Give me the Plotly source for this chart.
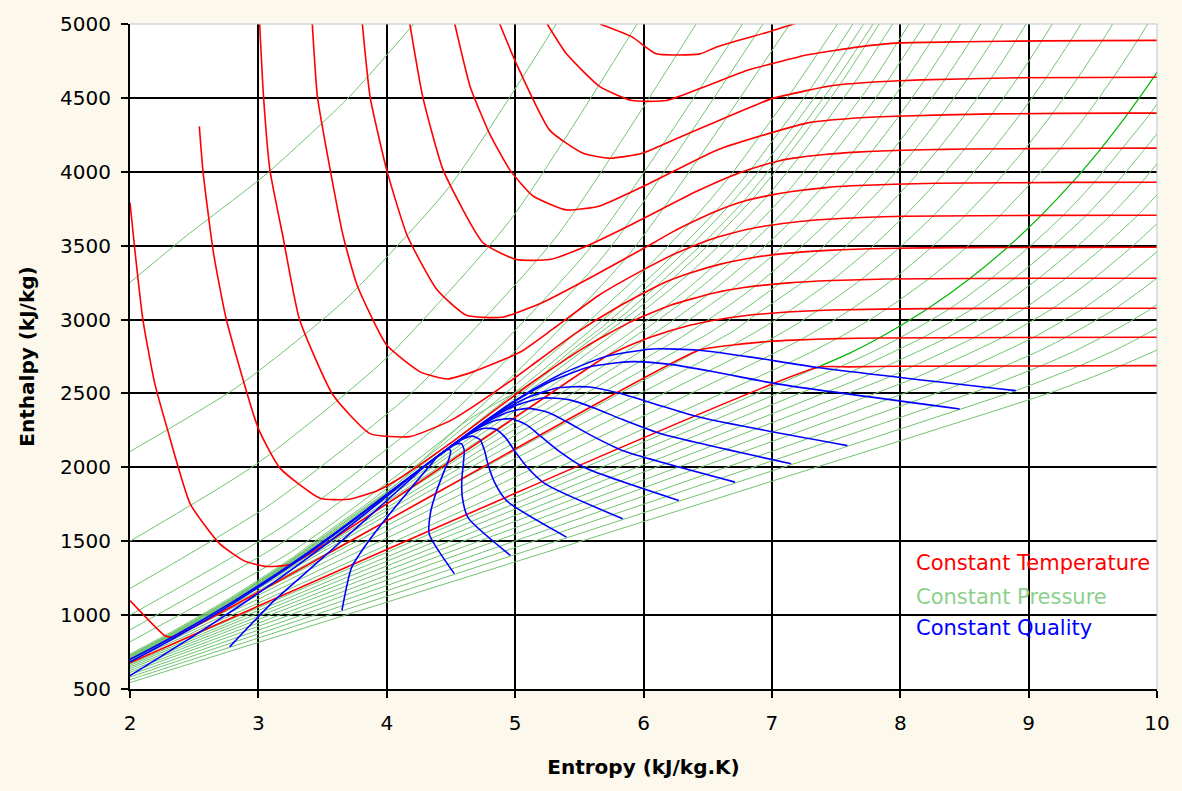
import plotly.graph_objects as go

# ---------------- axes ----------------
x_ticks = [2, 3, 4, 5, 6, 7, 8, 9, 10]
y_ticks = [500, 1000, 1500, 2000, 2500, 3000, 3500, 4000, 4500, 5000]
x_grid = [3, 4, 5, 6, 7, 8, 9]
y_grid = [1000, 1500, 2000, 2500, 3000, 3500, 4000, 4500]

# ---------------- constant temperature (red) ----------------
t100_s = [2.00, 7.355, 7.60, 8.00, 9.00, 10.0]
t100_h = [677, 2676, 2680, 2684, 2686, 2688]
t200_s = [2.00, 2.27, 2.33, 6.43, 6.70, 6.97, 7.17, 7.51, 7.83, 8.90, 10.0]
t200_h = [1098, 862, 852, 2792, 2828, 2851, 2861, 2871, 2875, 2879, 2880]
t300_s = [2.00, 2.04, 2.10, 2.19, 2.29, 2.47, 2.70, 2.89, 3.05, 3.255, 5.706, 5.79, 6.07, 6.36, 6.54, 6.77, 7.12, 7.46, 8.22, 9.28, 10.0]
t300_h = [3790, 3453, 3002, 2578, 2262, 1751, 1482, 1367, 1330, 1345, 2750, 2786, 2885, 2961, 2994, 3024, 3051, 3065, 3074, 3077, 3077]
t400_s = [2.54, 2.57, 2.65, 2.75, 3.00, 3.17, 3.48, 3.71, 3.93, 4.11, 4.48, 5.14, 5.55, 5.88, 6.21, 6.54, 6.77, 7.13, 7.47, 7.90, 8.54, 9.61, 10.0]
t400_h = [4307, 3991, 3453, 3002, 2262, 1993, 1791, 1784, 1843, 1931, 2153, 2579, 2817, 2976, 3097, 3178, 3215, 3248, 3264, 3274, 3278, 3280, 3280]
t500_s = [3.01, 3.04, 3.09, 3.19, 3.32, 3.58, 3.87, 4.18, 4.51, 4.94, 5.18, 5.47, 5.80, 6.14, 6.35, 6.60, 6.88, 7.09, 7.43, 7.76, 8.19, 8.83, 9.90, 10.0]
t500_h = [5000, 4509, 4011, 3567, 3002, 2491, 2228, 2208, 2323, 2570, 2723, 2907, 3085, 3241, 3311, 3375, 3423, 3446, 3468, 3479, 3485, 3488, 3489, 3489]
t600_s = [3.42, 3.46, 3.56, 3.66, 3.77, 4.00, 4.26, 4.47, 4.67, 5.04, 5.30, 5.65, 6.02, 6.24, 6.51, 6.68, 6.90, 7.17, 7.37, 7.70, 8.03, 9.10, 10.0]
t600_h = [5000, 4509, 4011, 3567, 3231, 2827, 2646, 2598, 2646, 2780, 2940, 3163, 3346, 3443, 3539, 3583, 3626, 3659, 3675, 3691, 3699, 3705, 3706]
t700_s = [3.81, 3.87, 4.00, 4.16, 4.39, 4.62, 4.90, 5.20, 5.60, 6.08, 6.22, 6.38, 6.57, 6.80, 6.96, 7.17, 7.42, 7.62, 7.95, 8.28, 9.34, 10.0]
t700_h = [5000, 4509, 4011, 3567, 3204, 3029, 3016, 3110, 3290, 3520, 3590, 3660, 3735, 3805, 3837, 3868, 3893, 3905, 3916, 3922, 3928, 3929]
t800_s = [4.18, 4.28, 4.44, 4.75, 5.01, 5.27, 5.53, 5.90, 6.41, 6.67, 6.84, 7.06, 7.20, 7.41, 7.66, 7.85, 8.18, 8.50, 9.57, 10.0]
t800_h = [5000, 4509, 4011, 3520, 3406, 3406, 3487, 3640, 3866, 3967, 4020, 4075, 4096, 4117, 4133, 4141, 4149, 4154, 4159, 4160]
t900_s = [4.53, 4.65, 4.80, 4.96, 5.14, 5.40, 5.66, 6.02, 6.57, 7.00, 7.28, 7.63, 7.96, 8.72, 9.78, 10.0]
t900_h = [5000, 4576, 4260, 4011, 3836, 3742, 3769, 3910, 4146, 4265, 4331, 4362, 4376, 4392, 4397, 4397]
t1000_s = [4.88, 5.01, 5.27, 5.53, 5.74, 5.99, 6.30, 6.57, 7.00, 7.27, 7.49, 7.83, 8.16, 8.92, 10.0]
t1000_h = [5000, 4731, 4280, 4125, 4092, 4125, 4240, 4341, 4495, 4549, 4585, 4609, 4622, 4636, 4640]
t1100_s = [5.25, 5.40, 5.66, 5.91, 6.18, 6.44, 6.82, 7.00, 7.27, 7.68, 8.00, 8.50, 9.10, 10.0]
t1100_h = [5000, 4798, 4576, 4482, 4482, 4563, 4690, 4731, 4790, 4845, 4872, 4880, 4886, 4889]
t1200_s = [5.66, 5.91, 6.10, 6.44, 6.57, 7.00, 7.35, 7.60]
t1200_h = [5000, 4913, 4798, 4798, 4845, 4953, 5047, 5067]

# ---------------- constant pressure (green) ----------------
p0_s = [0.0, 9.156, 9.447, 9.72, 9.973, 10.1]
p0_h = [0, 2501, 2594, 2688, 2783, 2830]
p10_s = [0.151, 8.900, 9.126, 9.40, 9.65, 9.87, 10.07]
p10_h = [42, 2519, 2594, 2688, 2783, 2880, 2977]
p20_s = [0.297, 8.666, 8.83, 9.10, 9.35, 9.57, 9.77, 9.96, 10.11]
p20_h = [84, 2537, 2594, 2688, 2783, 2880, 2977, 3077, 3178]
p30_s = [0.437, 8.452, 8.82, 9.07, 9.29, 9.68, 10.00, 10.15]
p30_h = [126, 2556, 2688, 2783, 2880, 3077, 3280, 3384]
p40_s = [0.572, 8.256, 8.57, 9.04, 9.43, 9.75, 10.04]
p40_h = [168, 2574, 2688, 2880, 3077, 3280, 3489]
p50_s = [0.704, 8.075, 8.33, 8.80, 9.19, 9.51, 9.80, 10.07]
p50_h = [209, 2591, 2688, 2880, 3077, 3280, 3489, 3706]
p60_s = [0.831, 7.908, 8.11, 8.58, 8.97, 9.29, 9.58, 9.85, 10.09]
p60_h = [251, 2609, 2688, 2880, 3077, 3280, 3489, 3706, 3929]
p70_s = [0.955, 7.754, 7.90, 8.37, 8.76, 9.08, 9.37, 9.64, 9.88, 10.10]
p70_h = [293, 2626, 2688, 2880, 3077, 3280, 3489, 3706, 3929, 4160]
p80_s = [1.076, 7.611, 7.71, 8.18, 8.57, 8.89, 9.18, 9.45, 9.69, 9.91, 10.13]
p80_h = [335, 2643, 2684, 2880, 3077, 3280, 3489, 3706, 3929, 4160, 4398]
p90_s = [1.193, 7.478, 7.78, 8.00, 8.39, 8.71, 9.00, 9.27, 9.51, 9.73, 9.95, 10.14]
p90_h = [377, 2660, 2780, 2878, 3076, 3279, 3488, 3705, 3928, 4159, 4397, 4640]
p100_s = [1.307, 7.354]
p100_h = [419, 2676]
p100v_s = [7.354, 7.614, 7.834, 8.033, 8.216, 8.543, 8.834, 9.098, 9.340, 9.565, 9.776, 9.975, 10.162]
p100v_h = [2676, 2776, 2875, 2975, 3074, 3278, 3488, 3705, 3928, 4159, 4397, 4640, 4889]
p120_s = [1.528, 7.129, 7.281, 7.508, 7.710, 7.894, 8.224, 8.515, 8.779, 9.022, 9.248, 9.460, 9.660, 9.848, 10.027]
p120_h = [504, 2706, 2769, 2871, 2971, 3072, 3277, 3488, 3705, 3928, 4158, 4395, 4639, 4888, 5141]
p140_s = [1.739, 6.929, 7.219, 7.427, 7.615, 7.947, 8.240, 8.505, 8.748, 8.974, 9.186, 9.386, 9.574, 9.753]
p140_h = [589, 2734, 2862, 2966, 3068, 3274, 3487, 3704, 3927, 4157, 4395, 4639, 4887, 5140]
p160_s = [1.90, 1.943, 6.749, 6.955, 7.170, 7.360, 7.696, 7.990, 8.256, 8.500, 8.726, 8.938, 9.138, 9.326, 9.506]
p160_h = [655, 676, 2757, 2850, 2957, 3062, 3271, 3483, 3701, 3925, 4156, 4394, 4638, 4886, 5139]
p180_s = [1.90, 2.139, 6.584, 6.696, 6.927, 7.125, 7.467, 7.764, 8.031, 8.276, 8.502, 8.715, 8.915, 9.103, 9.282]
p180_h = [656, 763, 2777, 2828, 2943, 3052, 3264, 3479, 3699, 3923, 4154, 4392, 4636, 4886, 5140]
p200_s = [1.90, 2.331, 6.430, 6.70, 6.885, 7.245, 7.550, 7.820, 8.067, 8.295, 8.508, 8.709, 8.897, 9.076]
p200_h = [657, 852, 2792, 2922, 3040, 3256, 3473, 3695, 3920, 4152, 4390, 4634, 4883, 5137]
p220_s = [1.90, 2.331, 2.518, 6.284, 6.48, 6.70, 7.06, 7.366, 7.636, 7.883, 8.111, 8.324, 8.525, 8.713, 8.892]
p220_h = [658, 853, 944, 2801, 2892, 3017, 3244, 3466, 3689, 3916, 4148, 4386, 4631, 4880, 5135]
p240_s = [1.90, 2.331, 2.702, 6.142, 6.22, 6.48, 6.69, 6.87, 7.18, 7.46, 7.71, 7.94, 8.15, 8.35, 8.54, 8.72]
p240_h = [659, 854, 1038, 2803, 2840, 2985, 3110, 3226, 3454, 3680, 3910, 4145, 4384, 4627, 4877, 5131]
p260_s = [1.90, 2.331, 2.885, 6.002, 6.25, 6.48, 6.68, 7.01, 7.29, 7.545, 7.78, 7.99, 8.19, 8.38, 8.56]
p260_h = [660, 856, 1135, 2797, 2935, 3075, 3200, 3437, 3668, 3902, 4138, 4378, 4623, 4873, 5128]
p280_s = [1.90, 2.331, 2.794, 3.069, 5.858, 6.03, 6.30, 6.51, 6.85, 7.14, 7.39, 7.63, 7.84, 8.04, 8.23, 8.41]
p280_h = [662, 858, 1090, 1237, 2780, 2875, 3038, 3174, 3421, 3657, 3893, 4132, 4373, 4618, 4870, 5123]
p300_s = [1.90, 2.331, 2.794, 3.255, 5.706, 6.08, 6.32, 6.69, 6.99, 7.25, 7.48, 7.70, 7.90, 8.28]
p300_h = [664, 860, 1092, 1345, 2750, 2975, 3130, 3395, 3639, 3880, 4123, 4367, 4613, 5118]
p320_s = [1.90, 2.331, 2.794, 3.255, 3.449, 5.537, 5.83, 6.14, 6.36, 6.54, 6.85, 7.12, 7.35, 7.57, 7.78, 8.15]
p320_h = [667, 863, 1095, 1352, 1462, 2701, 2870, 3065, 3220, 3358, 3614, 3862, 4111, 4358, 4606, 5113]
p340_s = [1.90, 2.331, 2.794, 3.255, 3.660, 5.336, 5.47, 5.89, 6.15, 6.36, 6.69, 6.97, 7.21, 7.43, 7.64, 8.02]
p340_h = [670, 866, 1099, 1356, 1595, 2622, 2710, 2985, 3163, 3314, 3585, 3841, 4097, 4348, 4598, 5107]
p360_s = [1.90, 2.331, 2.794, 3.255, 3.660, 3.917, 5.054, 5.65, 5.98, 6.21, 6.56, 6.85, 7.10, 7.32, 7.53, 7.91]
p360_h = [675, 872, 1105, 1362, 1605, 1762, 2482, 2870, 3090, 3262, 3551, 3817, 4081, 4336, 4589, 5100]
p370_s = [1.90, 2.331, 2.794, 3.255, 3.660, 3.917, 4.111, 4.801, 5.43, 5.85, 6.10, 6.48, 6.78, 7.03, 7.47, 7.86]
p370_h = [678, 875, 1108, 1366, 1610, 1770, 1891, 2334, 2760, 3035, 3225, 3530, 3800, 4068, 4583, 5095]
p25m_s = [1.90, 2.331, 2.794, 3.255, 3.66, 4.03, 4.60, 5.14, 5.47, 5.68, 5.96, 6.36, 6.67, 6.94, 7.39, 7.78]
p25m_h = [680, 878, 1111, 1370, 1620, 1849, 2300, 2579, 2812, 2951, 3166, 3492, 3774, 4047, 4573, 5088]
p30m_s = [1.90, 2.331, 2.794, 3.255, 3.66, 3.93, 4.48, 5.15, 5.44, 5.80, 6.24, 6.57, 6.84, 7.30, 7.69]
p30m_h = [683, 882, 1115, 1374, 1628, 1792, 2153, 2612, 2821, 3085, 3443, 3740, 4020, 4561, 5080]
p40m_s = [1.90, 2.331, 2.794, 3.255, 3.66, 3.83, 4.11, 4.50, 4.94, 5.47, 6.02, 6.38, 6.67, 7.15, 7.56]
p40m_h = [690, 890, 1124, 1383, 1640, 1743, 1931, 2199, 2512, 2907, 3346, 3671, 3967, 4537, 5063]
hpa_s = [2.00, 2.44, 3.07, 3.71, 4.21]
hpa_h = [3251, 3567, 3991, 4509, 5000]
hpb_s = [2.00, 2.83, 3.66, 4.49, 5.32]
hpb_h = [2107, 2541, 3120, 3901, 5000]
hpc_s = [2.00, 2.99, 3.98, 4.96, 5.95]
hpc_h = [1500, 2025, 2725, 3670, 5000]
hpd_s = [2.00, 3.10, 4.21, 5.31, 6.41]
hpd_h = [1180, 1753, 2517, 3548, 5000]
hpe_s = [2.00, 3.19, 4.39, 5.58, 6.77]
hpe_h = [1000, 1600, 2400, 3480, 5000]
hpf_s = [2.00, 3.23, 4.47, 5.70, 6.93]
hpf_h = [900, 1515, 2335, 3442, 5000]
hpg_s = [2.00, 3.29, 4.57, 5.86, 7.14]
hpg_h = [820, 1447, 2283, 3412, 5000]

# ---------------- constant quality (blue) ----------------
q000_s = [1.307, 1.842, 2.331, 2.794, 3.255, 3.660, 3.917, 4.111, 4.41]
q000_h = [419, 632, 852, 1086, 1345, 1595, 1762, 1891, 2084]
q010_s = [1.026, 1.912, 2.342, 2.741, 3.122, 3.500, 3.828, 4.031, 4.180, 4.41]
q010_h = [290, 645, 843, 1046, 1258, 1486, 1698, 1834, 1935, 2084]
q020_s = [1.901, 2.516, 2.841, 3.151, 3.450, 3.745, 3.995, 4.144, 4.249, 4.41]
q020_h = [537, 870, 1055, 1240, 1429, 1626, 1800, 1906, 1980, 2084]
q030_s = [2.776, 3.121, 3.341, 3.561, 3.777, 3.990, 4.163, 4.258, 4.318, 4.41]
q030_h = [785, 1096, 1266, 1434, 1601, 1767, 1903, 1978, 2024, 2084]
q040_s = [3.651, 3.726, 3.840, 3.971, 4.105, 4.235, 4.330, 4.372, 4.387, 4.41]
q040_h = [1033, 1322, 1478, 1628, 1772, 1907, 2006, 2050, 2068, 2084]
q050_s = [4.526, 4.331, 4.340, 4.381, 4.433, 4.481, 4.498, 4.486, 4.456, 4.41]
q050_h = [1281, 1548, 1689, 1822, 1944, 2048, 2109, 2122, 2113, 2084]
q055_s = [4.963, 4.633, 4.589, 4.585, 4.597, 4.603, 4.582, 4.542, 4.491, 4.41]
q055_h = [1404, 1660, 1795, 1919, 2029, 2118, 2160, 2158, 2135, 2084]
q060_s = [5.400, 4.935, 4.839, 4.790, 4.761, 4.726, 4.666, 4.599, 4.525, 4.41]
q060_h = [1528, 1773, 1900, 2016, 2115, 2188, 2211, 2194, 2157, 2084]
q065_s = [5.838, 5.238, 5.089, 4.995, 4.925, 4.848, 4.749, 4.656, 4.560, 4.41]
q065_h = [1652, 1886, 2006, 2113, 2201, 2258, 2263, 2230, 2179, 2084]
q070_s = [6.275, 5.540, 5.339, 5.200, 5.089, 4.971, 4.833, 4.713, 4.594, 4.41]
q070_h = [1776, 1999, 2112, 2210, 2287, 2329, 2314, 2266, 2201, 2084]
q075_s = [6.713, 5.842, 5.588, 5.405, 5.253, 5.093, 4.917, 4.770, 4.629, 4.41]
q075_h = [1900, 2112, 2218, 2307, 2372, 2399, 2365, 2302, 2223, 2084]
q080_s = [7.150, 6.145, 5.838, 5.610, 5.416, 5.216, 5.001, 4.827, 4.663, 4.41]
q080_h = [2024, 2225, 2323, 2404, 2458, 2469, 2417, 2338, 2245, 2084]
q085_s = [7.588, 6.447, 6.088, 5.815, 5.580, 5.338, 5.085, 4.883, 4.698, 4.41]
q085_h = [2147, 2337, 2429, 2501, 2544, 2539, 2468, 2374, 2268, 2084]
q095_s = [8.463, 7.051, 6.587, 6.225, 5.908, 5.583, 5.252, 4.997, 4.767, 4.41]
q095_h = [2395, 2563, 2640, 2695, 2715, 2680, 2571, 2446, 2312, 2084]
q100_s = [8.900, 7.354, 6.837, 6.430, 6.072, 5.706, 5.336, 5.054, 4.801, 4.41]
q100_h = [2519, 2676, 2746, 2792, 2801, 2750, 2622, 2482, 2334, 2084]

legend_labels = ["Constant Temperature", "Constant Pressure", "Constant Quality"]

RED = "#FF0000"
GREEN = "rgb(112,196,112)"
BRIGHT_GREEN = "#00B400"
BLUE = "#0000FF"
BG = "#FCF8EC"

isotherms = [(t100_s, t100_h), (t200_s, t200_h), (t300_s, t300_h), (t400_s, t400_h),
             (t500_s, t500_h), (t600_s, t600_h), (t700_s, t700_h), (t800_s, t800_h),
             (t900_s, t900_h), (t1000_s, t1000_h), (t1100_s, t1100_h), (t1200_s, t1200_h)]
isobars = [(p0_s, p0_h), (p10_s, p10_h), (p20_s, p20_h), (p30_s, p30_h), (p40_s, p40_h),
           (p50_s, p50_h), (p60_s, p60_h), (p70_s, p70_h), (p80_s, p80_h), (p90_s, p90_h),
           (p100_s, p100_h), (p120_s, p120_h), (p140_s, p140_h), (p160_s, p160_h),
           (p180_s, p180_h), (p200_s, p200_h), (p220_s, p220_h), (p240_s, p240_h),
           (p260_s, p260_h), (p280_s, p280_h), (p300_s, p300_h), (p320_s, p320_h),
           (p340_s, p340_h), (p360_s, p360_h), (p370_s, p370_h), (p25m_s, p25m_h),
           (p30m_s, p30m_h), (p40m_s, p40m_h), (hpa_s, hpa_h), (hpb_s, hpb_h),
           (hpc_s, hpc_h), (hpd_s, hpd_h), (hpe_s, hpe_h), (hpf_s, hpf_h), (hpg_s, hpg_h)]
qualities = [(q000_s, q000_h), (q010_s, q010_h), (q020_s, q020_h), (q030_s, q030_h),
             (q040_s, q040_h), (q050_s, q050_h), (q055_s, q055_h), (q060_s, q060_h),
             (q065_s, q065_h), (q070_s, q070_h), (q075_s, q075_h), (q080_s, q080_h),
             (q085_s, q085_h), (q095_s, q095_h), (q100_s, q100_h)]

fig = go.Figure()

for s, h in isobars:
    fig.add_trace(go.Scatter(x=s, y=h, mode="lines", hoverinfo="skip",
                             line=dict(color=GREEN, width=1, shape="spline", smoothing=0.6)))
fig.add_trace(go.Scatter(x=p100v_s, y=p100v_h, mode="lines", hoverinfo="skip",
                         line=dict(color=BRIGHT_GREEN, width=1.2, shape="spline", smoothing=0.6)))
for s, h in isotherms:
    fig.add_trace(go.Scatter(x=s, y=h, mode="lines", hoverinfo="skip",
                             line=dict(color=RED, width=1.6, shape="spline", smoothing=0.5)))
for s, h in qualities:
    fig.add_trace(go.Scatter(x=s, y=h, mode="lines", hoverinfo="skip",
                             line=dict(color=BLUE, width=1.6, shape="spline", smoothing=0.6)))

# empty trace carrying the grid-only overlay axes
fig.add_trace(go.Scatter(x=[], y=[], xaxis="x2", yaxis="y2", showlegend=False))

FONT = "DejaVu Sans, Arial, sans-serif"

fig.update_layout(
    width=1182, height=791,
    margin=dict(l=130, r=24, t=20, b=102),
    paper_bgcolor=BG,
    plot_bgcolor="white",
    showlegend=False,
    font=dict(family=FONT, size=20, color="black"),
    xaxis=dict(range=[2, 10], tickmode="array", tickvals=x_ticks,
               ticks="outside", ticklen=7, tickwidth=2, tickcolor="black",
               showgrid=False, zeroline=False, showline=True, linecolor="black", linewidth=2,
               tickfont=dict(size=20), ticklabelstandoff=8,
               title=dict(text="<b>Entropy (kJ/kg.K)</b>", font=dict(size=20), standoff=26)),
    yaxis=dict(range=[500, 5000], tickmode="array", tickvals=y_ticks,
               ticks="outside", ticklen=7, tickwidth=2, tickcolor="black",
               showgrid=False, zeroline=False, showline=True, linecolor="black", linewidth=2,
               tickfont=dict(size=20), ticklabelstandoff=6,
               title=dict(text="<b>Enthalpy (kJ/kg)</b>", font=dict(size=20), standoff=20)),
    xaxis2=dict(range=[2, 10], overlaying="x", tickmode="array", tickvals=x_grid,
                showticklabels=False, ticks="", showgrid=True, gridcolor="black", gridwidth=2,
                zeroline=False, showline=False),
    yaxis2=dict(range=[500, 5000], overlaying="y", tickmode="array", tickvals=y_grid,
                showticklabels=False, ticks="", showgrid=True, gridcolor="black", gridwidth=2,
                zeroline=False, showline=False),
    shapes=[
        dict(type="line", xref="paper", yref="paper", x0=0, x1=1, y0=1, y1=1,
             line=dict(color="#B8C4CC", width=1)),
        dict(type="line", xref="paper", yref="paper", x0=1, x1=1, y0=0, y1=1,
             line=dict(color="#B8C4CC", width=1)),
    ],
    annotations=[
        dict(text=legend_labels[0], xref="paper", yref="paper", x=0.7636, y=0.190,
             xanchor="left", yanchor="middle", showarrow=False,
             font=dict(family=FONT, size=21, color=RED)),
        dict(text=legend_labels[1], xref="paper", yref="paper", x=0.7636, y=0.139,
             xanchor="left", yanchor="middle", showarrow=False,
             font=dict(family=FONT, size=21, color="rgb(140,208,140)")),
        dict(text=legend_labels[2], xref="paper", yref="paper", x=0.7636, y=0.091,
             xanchor="left", yanchor="middle", showarrow=False,
             font=dict(family=FONT, size=21, color=BLUE)),
    ],
)

fig.write_html(
    "out.html",
    config={"displayModeBar": False},
    post_script="document.body.style.margin='0px';document.body.style.background='" + BG + "';",
)
